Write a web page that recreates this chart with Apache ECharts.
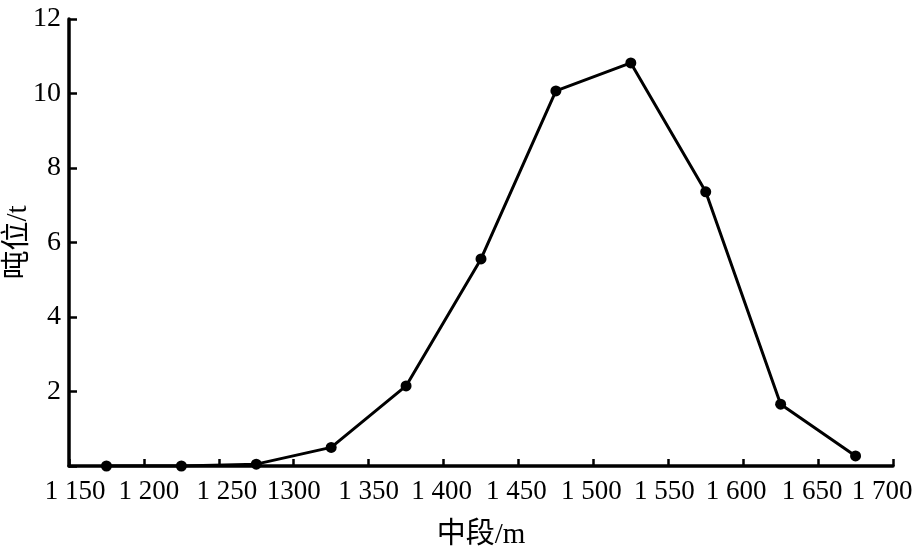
<!DOCTYPE html>
<html><head><meta charset="utf-8">
<script src="https://cdn.jsdelivr.net/npm/echarts@6/dist/echarts.min.js"></script>
<style>html,body{margin:0;padding:0;background:#fff}#c{width:922px;height:550px}</style>
</head><body><div id="c"></div>
<script>
const xValues = [1175, 1225, 1275, 1325, 1375, 1425, 1475, 1525, 1575, 1625, 1675];
const tonnage = [0, 0, 0.05, 0.5, 2.15, 5.56, 10.07, 10.82, 7.36, 1.66, 0.27];
const xTickValues = [1150, 1200, 1250, 1300, 1350, 1400, 1450, 1500, 1550, 1600, 1650, 1700];
const xTickLabels = ["1 150","1 200","1 250","1300","1 350","1 400","1 450","1 500","1 550","1 600","1 650","1 700"];
const xName = "中段/m";
const yName = "吨位/t";

// style: horizontal nudge (px) of each x tick label, as typeset in the original
const labelNudge = [6, 5, 8, 0, 0, -2, -2, -2, -4, -7, -6, -11];

const serif = '"Liberation Serif", "Noto Sans CJK SC", serif';
const rich = {};
labelNudge.forEach((s, i) => {
  rich['s' + i] = {fontFamily: serif, fontSize: 27, color: '#000',
    padding: s >= 0 ? [0, 0, 0, 2 * s] : [0, -2 * s, 0, 0]};
});

const chart = echarts.init(document.getElementById('c'));
chart.setOption({
  animation: false,
  grid: {left: 69, right: 29, top: 19, bottom: 84, containLabel: false, outerBoundsMode: 'none'},
  xAxis: {
    type: 'value', min: 1150, max: 1700, interval: 50,
    name: xName, nameLocation: 'middle', nameGap: 55, nameMoveOverlap: false,
    nameTextStyle: {fontFamily: serif, fontSize: 29, color: '#000'},
    axisLine: {lineStyle: {color: '#000', width: 3.5}},
    axisTick: {inside: true, length: 7, lineStyle: {color: '#000', width: 2.5}},
    axisLabel: {fontFamily: serif, fontSize: 27, color: '#000', margin: 12,
      formatter: v => {
        const i = xTickValues.indexOf(Math.round(v));
        if (i < 0) return '';
        return '{s' + i + '|' + xTickLabels[i] + '}';
      },
      rich: rich},
    splitLine: {show: false}
  },
  yAxis: {
    type: 'value', min: 0, max: 12, interval: 2,
    name: yName, nameLocation: 'middle', nameGap: 36, nameRotate: 90, nameMoveOverlap: false,
    nameTextStyle: {fontFamily: serif, fontSize: 29, color: '#000'},
    axisLine: {show: true, lineStyle: {color: '#000', width: 3.5}},
    axisTick: {show: true, inside: true, length: 8, lineStyle: {color: '#000', width: 2.5}},
    axisLabel: {fontFamily: serif, fontSize: 28, color: '#000', margin: 8,
      formatter: v => v === 0 ? '' : String(v)},
    splitLine: {show: false}
  },
  series: [{
    type: 'line',
    data: xValues.map((x, i) => [x, tonnage[i]]),
    symbol: 'circle', symbolSize: 11,
    lineStyle: {color: '#000', width: 3},
    itemStyle: {color: '#000'}
  }]
});
</script></body></html>
